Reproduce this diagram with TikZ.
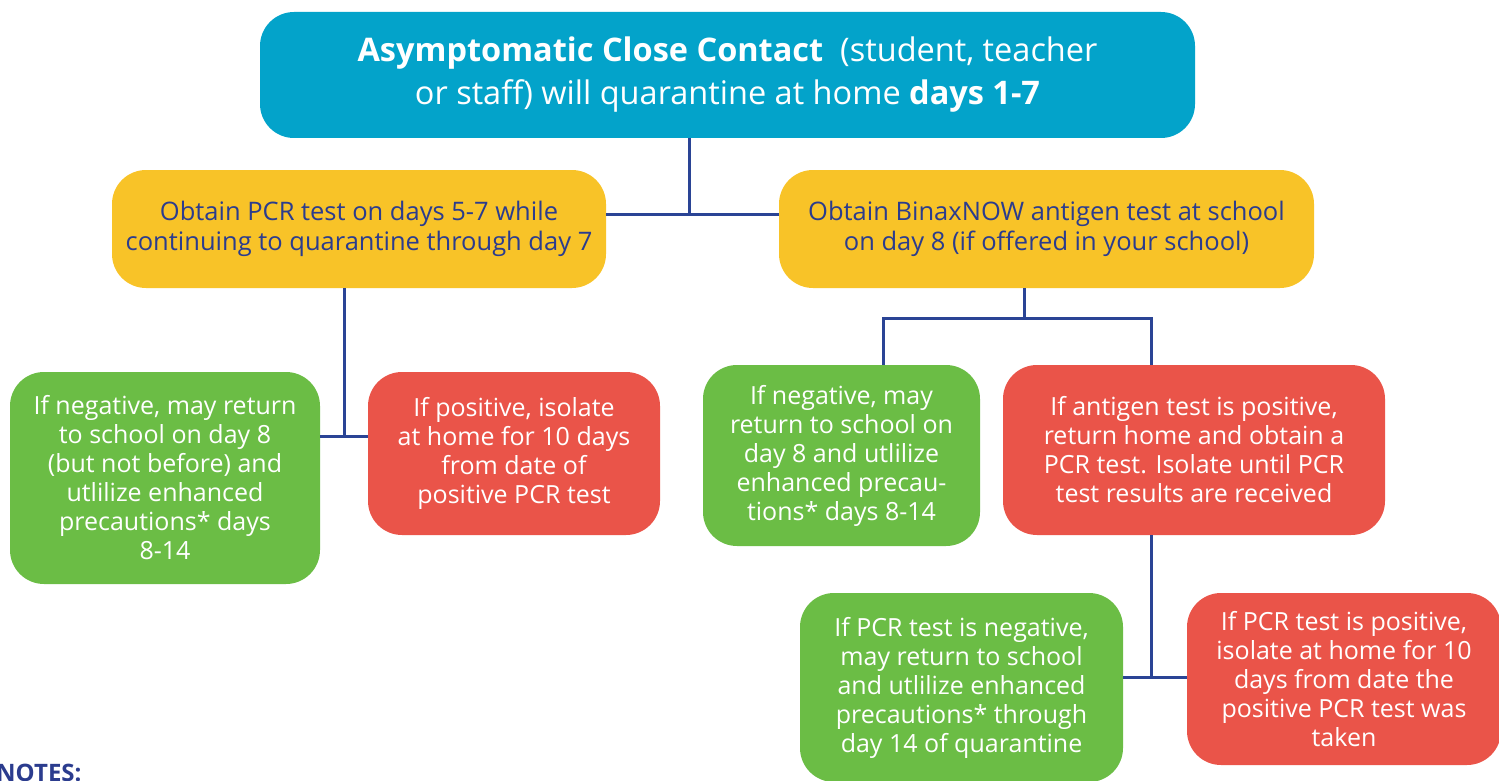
\documentclass[tikz,border=0pt]{standalone}
\usepackage{fontspec}
\setmainfont{Open Sans}
\definecolor{topblue}{HTML}{03A3CA}
\definecolor{ylw}{HTML}{F8C328}
\definecolor{grn}{HTML}{6BBD45}
\definecolor{rd}{HTML}{EA5449}
\definecolor{lineblue}{HTML}{2A4495}
\definecolor{navy}{HTML}{2B3C8E}
\begin{document}
\begin{tikzpicture}[x=1pt,y=-1pt,
  box/.style={rounded corners=34pt, inner sep=0pt, align=center, font=\fontsize{25}{29}\selectfont},
  topbox/.style={box, fill=topblue, text=white, font=\fontsize{32.5}{43}\selectfont},
  ybox/.style={box, fill=ylw, text=navy, font=\fontsize{25.5}{30}\selectfont},
  gbox/.style={box, fill=grn, text=white},
  rbox/.style={box, fill=rd, text=white},
  conn/.style={draw=lineblue, line width=3pt}]
\useasboundingbox (0,0) rectangle (1499,781);
\clip (0,0) rectangle (1499,781);
\node[topbox, minimum width=935pt, minimum height=126pt] (top) at (727.5,75)
  {\textbf{Asymptomatic Close Contact}\ \ (student, teacher\\or staff) will quarantine at home \textbf{days 1-7}};
\node[ybox, minimum width=494pt, minimum height=118pt] (yl) at (359,229)
  {Obtain PCR test on days 5-7 while\\continuing to quarantine through day 7};
\node[ybox, minimum width=535pt, minimum height=118pt] (yr) at (1046.5,229)
  {Obtain BinaxNOW antigen test at school\\on day 8 (if offered in your school)};
\node[gbox, minimum width=310pt, minimum height=212pt] (g1) at (165,478)
  {If negative, may return\\to school on day 8\\(but not before) and\\utlilize enhanced\\precautions* days\\8-14};
\node[rbox, minimum width=292pt, minimum height=163pt] (r1) at (514,453.5)
  {If positive, isolate\\at home for 10 days\\from date of\\positive PCR test};
\node[gbox, minimum width=277pt, minimum height=181pt] (g2) at (841.5,455.5)
  {If negative, may\\return to school on\\day 8 and utlilize\\enhanced precau-\\tions* days 8-14};
\node[rbox, minimum width=382pt, minimum height=170pt] (r2) at (1194,450)
  {If antigen test is positive,\\return home and obtain a\\PCR test. Isolate until PCR\\test results are received};
\node[gbox, minimum width=323pt, minimum height=189pt] (g3) at (961.5,687.5)
  {If PCR test is negative,\\may return to school\\and utlilize enhanced\\precautions* through\\day 14 of quarantine};
\node[rbox, minimum width=314pt, minimum height=172pt] (r3) at (1344,679)
  {If PCR test is positive,\\isolate at home for 10\\days from date the\\positive PCR test was\\taken};
\node[anchor=north west, inner sep=0pt, text=navy, font=\fontsize{24}{28}\selectfont\bfseries] (notes) at (-4,764) {NOTES:};
% connectors
\coordinate (j1) at (689,214);
\draw[conn] (top.south -| j1) -- (j1);
\draw[conn] (yl.east |- j1) -- (yr.west |- j1);
\coordinate (j2) at (344,436);
\draw[conn] (yl.south -| j2) -- (j2);
\draw[conn] (g1.east |- j2) -- (r1.west |- j2);
\coordinate (j3) at (1024,318);
\coordinate (j3l) at (883,318);
\coordinate (j3r) at (1151,318);
\draw[conn] (yr.south -| j3) -- (j3);
\draw[conn] (g2.north -| j3l) -- (j3l) -- (j3r) -- (r2.north -| j3r);
\coordinate (j4) at (1151,677);
\draw[conn] (r2.south -| j4) -- (j4);
\draw[conn] (g3.east |- j4) -- (r3.west |- j4);
\end{tikzpicture}
\end{document}
